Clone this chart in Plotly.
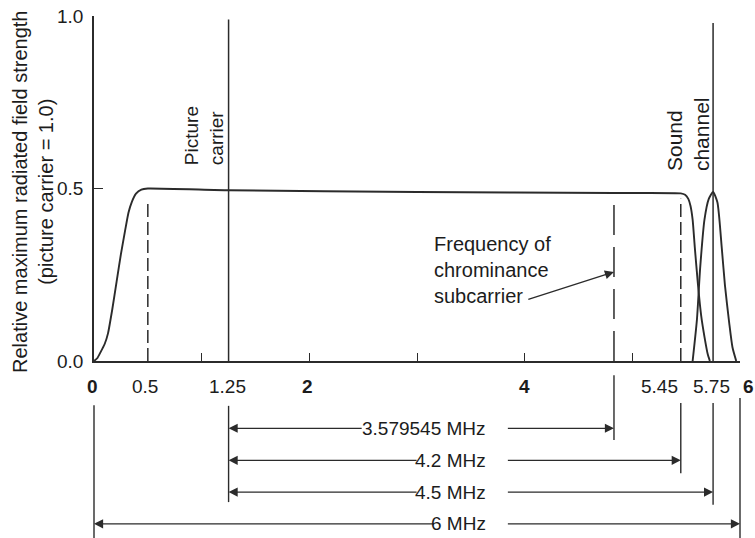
import plotly.graph_objects as go

# ---------------- data (MHz / relative field strength) ----------------
video_x = [0, 0.03, 0.06, 0.10, 0.13, 0.17, 0.21, 0.25, 0.29, 0.32, 0.35, 0.39, 0.44, 0.50,
           1.25, 3.0, 4.83, 5.45, 5.49, 5.52, 5.54, 5.56, 5.58, 5.61, 5.64, 5.67, 5.70, 5.72]
video_y = [0, 0.008, 0.025, 0.05, 0.08, 0.15, 0.23, 0.31, 0.38, 0.43, 0.46, 0.485, 0.497, 0.50,
           0.495, 0.49, 0.487, 0.486, 0.482, 0.47, 0.45, 0.41, 0.33, 0.22, 0.13, 0.07, 0.02, 0.0]

sound_x = [5.56, 5.60, 5.63, 5.67, 5.71, 5.75, 5.79, 5.83, 5.86, 5.90, 5.93, 5.965]
sound_y = [0.0, 0.12, 0.27, 0.41, 0.47, 0.49, 0.46, 0.33, 0.22, 0.11, 0.04, 0.0]

picture_carrier = 1.25
sound_carrier = 5.75
chroma_offset = 3.579545
chroma = picture_carrier + chroma_offset
vestigial_edge = 0.5
video_edge = 5.45
carrier_tops = [0.99, 0.98]
dashed_tops = [0.465, 0.47, 0.47]

tick_marks = [1, 2, 3, 4, 5, 6]
tick_label_vals = [0, 0.5, 1.25, 2, 4, 5.45, 5.75, 6]
tick_label_text = ["<b>0</b>", "0.5", "1.25", "<b>2</b>", "<b>4</b>", "5.45", "5.75", "<b>6</b>"]
tick_label_shift = [-2, -3, -1, -2, 0, -21, -2, 8]

y_ticks = [0, 0.5, 1.0]
y_tick_text = ["0.0", "0.5", "1.0"]

dim_labels = ["3.579545 MHz", "4.2 MHz", "4.5 MHz", "6 MHz"]
dim_start = [picture_carrier, picture_carrier, picture_carrier, 0]
dim_end = [chroma, video_edge, sound_carrier, 6]
dim_rows = [-0.195, -0.288, -0.380, -0.472]          # paper y of each dimension row
dim_text_left = [2.50, 3.01, 3.01, 3.17]              # where the left arrow meets its text
dim_text_right = 3.66
dim_right_tail = 3.83

ext_x = [0, picture_carrier, chroma, video_edge, sound_carrier, 6]
ext_top = [-0.128, -0.130, -0.041, -0.122, -0.122, -0.107]
ext_bot = [-0.513, -0.409, -0.229, -0.325, -0.417, -0.513]

X_MIN, X_MAX = 0, 6
INK = "#2b2b2b"
TXT = "#1c1c1c"
FONT = "Liberation Sans, Arial, Helvetica, sans-serif"

fig = go.Figure()

fig.add_trace(go.Scatter(x=video_x, y=video_y, mode="lines", line=dict(color=INK, width=1.9, shape="spline", smoothing=0.5),
                         hoverinfo="skip", showlegend=False))
fig.add_trace(go.Scatter(x=sound_x, y=sound_y, mode="lines", line=dict(color=INK, width=1.9, shape="spline", smoothing=0.6),
                         hoverinfo="skip", showlegend=False))

# carrier lines
for cx, top in zip([picture_carrier, sound_carrier], carrier_tops):
    fig.add_trace(go.Scatter(x=[cx, cx], y=[0, top], mode="lines", line=dict(color=INK, width=1.5),
                             hoverinfo="skip", showlegend=False))

# dashed band-edge lines
for dx, top, dash in zip([vestigial_edge, chroma, video_edge], dashed_tops, ["13px,5px", "30px,12px", "13px,5px"]):
    fig.add_trace(go.Scatter(x=[dx, dx], y=[0, top], mode="lines", line=dict(color=INK, width=1.5, dash=dash),
                             hoverinfo="skip", showlegend=False))

def px(x):
    return (x - X_MIN) / (X_MAX - X_MIN)

shapes = []
for x, t, b in zip(ext_x, ext_top, ext_bot):
    shapes.append(dict(type="line", xref="paper", yref="paper", x0=px(x), x1=px(x), y0=t, y1=b,
                       line=dict(color=INK, width=1.4)))

annotations = []
# x tick labels
for v, t, s in zip(tick_label_vals, tick_label_text, tick_label_shift):
    annotations.append(dict(x=v, xref="x", y=-0.075, yref="paper", text=t, showarrow=False,
                            xanchor="center", yanchor="middle", xshift=s,
                            font=dict(size=19, color=TXT, family=FONT)))

# dimension arrows
for lab, s, e, row, tl in zip(dim_labels, dim_start, dim_end, dim_rows, dim_text_left):
    annotations.append(dict(x=s, xref="x", y=row, yref="paper", ax=tl, axref="x", ay=0, ayref="pixel",
                            text="", showarrow=True, arrowhead=2, arrowsize=1.4, arrowwidth=1.3,
                            arrowcolor=INK, standoff=0, startstandoff=0))
    annotations.append(dict(x=e, xref="x", y=row, yref="paper", ax=dim_right_tail, axref="x", ay=0, ayref="pixel",
                            text="", showarrow=True, arrowhead=2, arrowsize=1.4, arrowwidth=1.3,
                            arrowcolor=INK, standoff=0, startstandoff=0))
    annotations.append(dict(x=dim_text_right, xref="x", y=row, yref="paper", text=lab, showarrow=False,
                            xanchor="right", yanchor="middle",
                            font=dict(size=19, color=TXT, family=FONT)))

# y axis title
annotations.append(dict(x=0, xref="paper", y=0.49, yref="paper", xshift=-61,
                        text="Relative maximum radiated field strength<br>(picture carrier = 1.0)",
                        textangle=-90, showarrow=False, xanchor="center", yanchor="middle",
                        font=dict(size=20, color=TXT, family=FONT)))

# labels inside plot
annotations.append(dict(x=picture_carrier, xref="x", y=0.562, yref="y", xshift=0,
                        text="Picture<br>carrier", textangle=-90, align="left", showarrow=False,
                        xanchor="right", yanchor="bottom", font=dict(size=19, color=TXT, family=FONT)))
annotations.append(dict(x=sound_carrier, xref="x", y=0.545, yref="y", xshift=2,
                        text="Sound<br>channel", textangle=-90, align="left", showarrow=False,
                        xanchor="right", yanchor="bottom", font=dict(size=21, color=TXT, family=FONT)))
annotations.append(dict(x=3.14, xref="x", y=0.377, yref="y",
                        text="Frequency of<br>chrominance<br>subcarrier", align="left", showarrow=False,
                        xanchor="left", yanchor="top", font=dict(size=20, color=TXT, family=FONT)))
annotations.append(dict(x=chroma, xref="x", y=0.258, yref="y", ax=4.02, axref="x", ay=0.177, ayref="y",
                        text="", showarrow=True, arrowhead=2, arrowsize=1.4, arrowwidth=1.3,
                        arrowcolor=INK, standoff=0))

fig.update_layout(
    width=755, height=538,
    margin=dict(l=94, r=15, t=16, b=177, autoexpand=False),
    paper_bgcolor="white", plot_bgcolor="white",
    font=dict(family=FONT, size=19, color=TXT),
    shapes=shapes, annotations=annotations,
    xaxis=dict(range=[X_MIN, X_MAX], showgrid=False, zeroline=False, showline=True, automargin=False,
               linecolor=INK, linewidth=1.6, ticks="inside", ticklen=8, tickwidth=1.4, tickcolor=INK,
               tickvals=tick_marks, showticklabels=False, fixedrange=True),
    yaxis=dict(range=[0, 1], showgrid=False, zeroline=False, showline=True, automargin=False,
               linecolor=INK, linewidth=1.6, ticks="inside", ticklen=9, tickwidth=1.4, tickcolor=INK,
               tickvals=y_ticks, ticktext=y_tick_text, ticklabelstandoff=5,
               tickfont=dict(size=19, color=TXT, family=FONT), fixedrange=True),
    showlegend=False,
)

fig.write_html("out.html", config={"displayModeBar": False},
               post_script="document.body.style.margin='0';")
